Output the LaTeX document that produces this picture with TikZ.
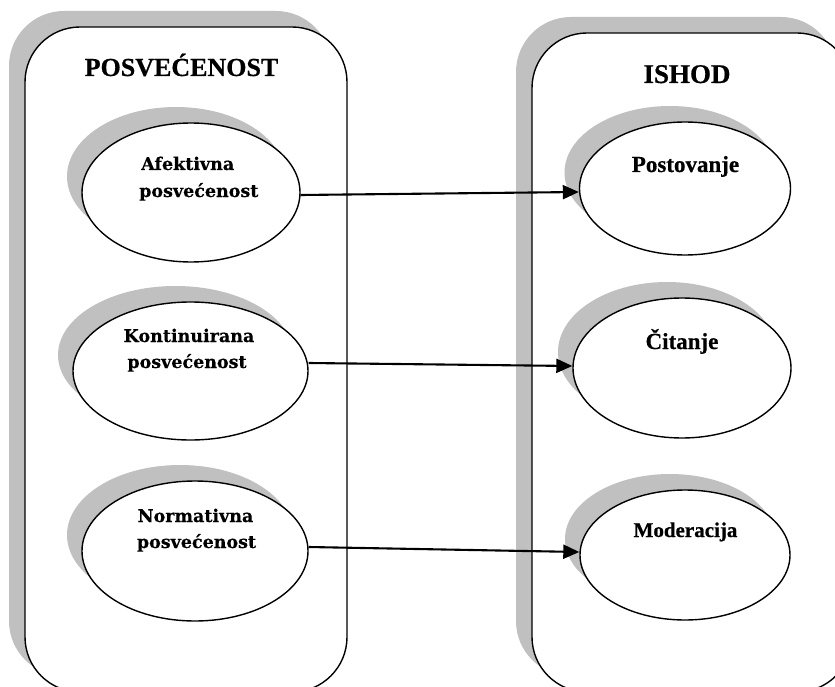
\documentclass[tikz,border=0pt]{standalone}
\usepackage{fontspec}
\setmainfont{Liberation Serif}[BoldFeatures={FakeBold=0.6}]
\newfontfamily\djs{DejaVu Serif}[BoldFeatures={FakeBold=0.4}]
\usetikzlibrary{shapes.geometric,shadows,arrows.meta}
\definecolor{shgray}{RGB}{192,192,192}
\tikzset{
  panel/.style={draw, line width=1.4pt, fill=white, rounded corners=55pt, inner sep=0pt,
    general shadow={fill=shgray, shadow xshift=-16pt, shadow yshift=16pt}},
  oval/.style={ellipse, draw, line width=1.4pt, fill=white, inner sep=0pt,
    general shadow={fill=shgray, shadow xshift=-15pt, shadow yshift=16pt}},
  lefttext/.style={font=\djs\bfseries\fontsize{17.5}{27}\selectfont, inner sep=0pt, anchor=base},
  righttext/.style={font=\bfseries\fontsize{23}{27}\selectfont, inner sep=0pt, anchor=base},
  title/.style={font=\bfseries\fontsize{26}{30}\selectfont, inner sep=0pt, anchor=base},
  link/.style={line width=2.1pt, -{Triangle[length=16pt,width=14pt]}},
}
\begin{document}
\begin{tikzpicture}[x=1pt,y=-1pt]
\useasboundingbox (0,0) rectangle (835,687);
\clip (0,0) rectangle (835,687);
% panels
\node[panel, minimum width=322pt, minimum height=665pt] (L) at (186,359.5) {};
\node[panel, minimum width=320pt, minimum height=659pt] (R) at (692,362.5) {};
\node[title] (LT) at (181.5,76) {POSVEĆENOST};
\node[title, font=\bfseries\fontsize{27}{30}\selectfont] (RT) at (687,83) {ISHOD};
% left ovals
\node[oval, minimum width=218pt, minimum height=139pt] (a) at (191,192.5) {};
\node[oval, minimum width=235pt, minimum height=138pt] (k) at (190.5,371) {};
\node[oval, minimum width=226pt, minimum height=140pt] (n) at (195,551) {};
% right ovals
\node[oval, minimum width=211pt, minimum height=133pt] (p) at (685,188.5) {};
\node[oval, minimum width=218pt, minimum height=140pt] (c) at (682,368) {};
\node[oval, minimum width=210pt, minimum height=130pt] (m) at (685,555) {};
% texts
\node[lefttext, anchor=base west] (at1) at (141,170) {Afektivna};
\node[lefttext, anchor=base west] (at2) at (139,197) {posvećenost};
\node[lefttext] (kt1) at (189,342) {Kontinuirana};
\node[lefttext] (kt2) at (187,368) {posvećenost};
\node[lefttext] (nt1) at (195.5,522) {Normativna};
\node[lefttext] (nt2) at (196.5,548) {posvećenost};
\node[righttext] (pt) at (685.5,172) {Postovanje};
\node[righttext] (ct) at (682,349) {Čitanje};
\node[righttext, font=\bfseries\fontsize{21}{25}\selectfont] (mt) at (685.5,537) {Moderacija};
% links
\draw[link] ([yshift=-2.5pt]a.east) -- ([yshift=-3.5pt]p.west);
\draw[link] ([yshift=8pt]k.east) -- ([yshift=2pt]c.west);
\draw[link] ([yshift=4pt]n.east) -- ([yshift=3pt]m.west);
\end{tikzpicture}
\end{document}
